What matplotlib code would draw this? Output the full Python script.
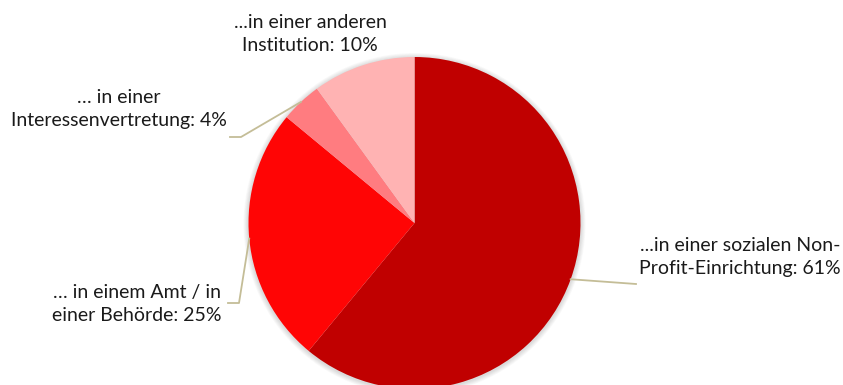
import matplotlib.pyplot as plt
import numpy as np
from matplotlib.patches import Circle

labels = ["...in einer sozialen Non-\nProfit-Einrichtung: 61%",
          "… in einem Amt / in\neiner Behörde: 25%",
          "… in einer\nInteressenvertretung: 4%",
          "...in einer anderen\nInstitution: 10%"]
shares = [61, 25, 4, 10]
colors = ["#C00000", "#FF0505", "#FF7C80", "#FFB3B3"]

# label anchors (text centre) and leader elbows, in pixel units (y up)
text_pos = [(740, 128), (137, 81), (119, 276), (310, 351)]
elbows = [(636, 101), (239, 82), (241, 248), None]

plt.rcParams['font.family'] = ['Lato', 'DejaVu Sans']

fig = plt.figure(figsize=(8.43, 3.85), dpi=100)
ax = fig.add_axes([0, 0, 1, 1])

cx, cy, r = 414.5, 162, 166

# soft shadow round the pie
for k in range(6):
    ax.add_patch(Circle((cx, cy - 1), r + 1 + k * 0.8, color='#000000',
                        alpha=0.025, lw=0, zorder=0))

wedges, _ = ax.pie(shares, colors=colors, startangle=90, counterclock=False,
                   center=(cx, cy), radius=r, frame=True,
                   wedgeprops=dict(linewidth=0))
ax.set_xlim(0, 843)
ax.set_ylim(0, 385)
ax.set_aspect('equal')
ax.axis('off')

for w, lab, tp, el in zip(wedges, labels, text_pos, elbows):
    mid = np.deg2rad((w.theta1 + w.theta2) / 2)
    ex, ey = cx + r * np.cos(mid), cy + r * np.sin(mid)
    if el is not None:
        if el[0] > cx:
            xs = [ex, el[0]]
            ys = [ey, el[1]]
        else:
            xs = [ex, el[0], el[0] - 11]
            ys = [ey, el[1], el[1]]
        ax.plot(xs, ys, color='#C4BD97', lw=1.3, zorder=1)
    ax.text(tp[0], tp[1], lab, ha='center', va='center', fontsize=14,
            color='#1a1a1a', linespacing=1.4)

fig.savefig('out.png', dpi=100)
